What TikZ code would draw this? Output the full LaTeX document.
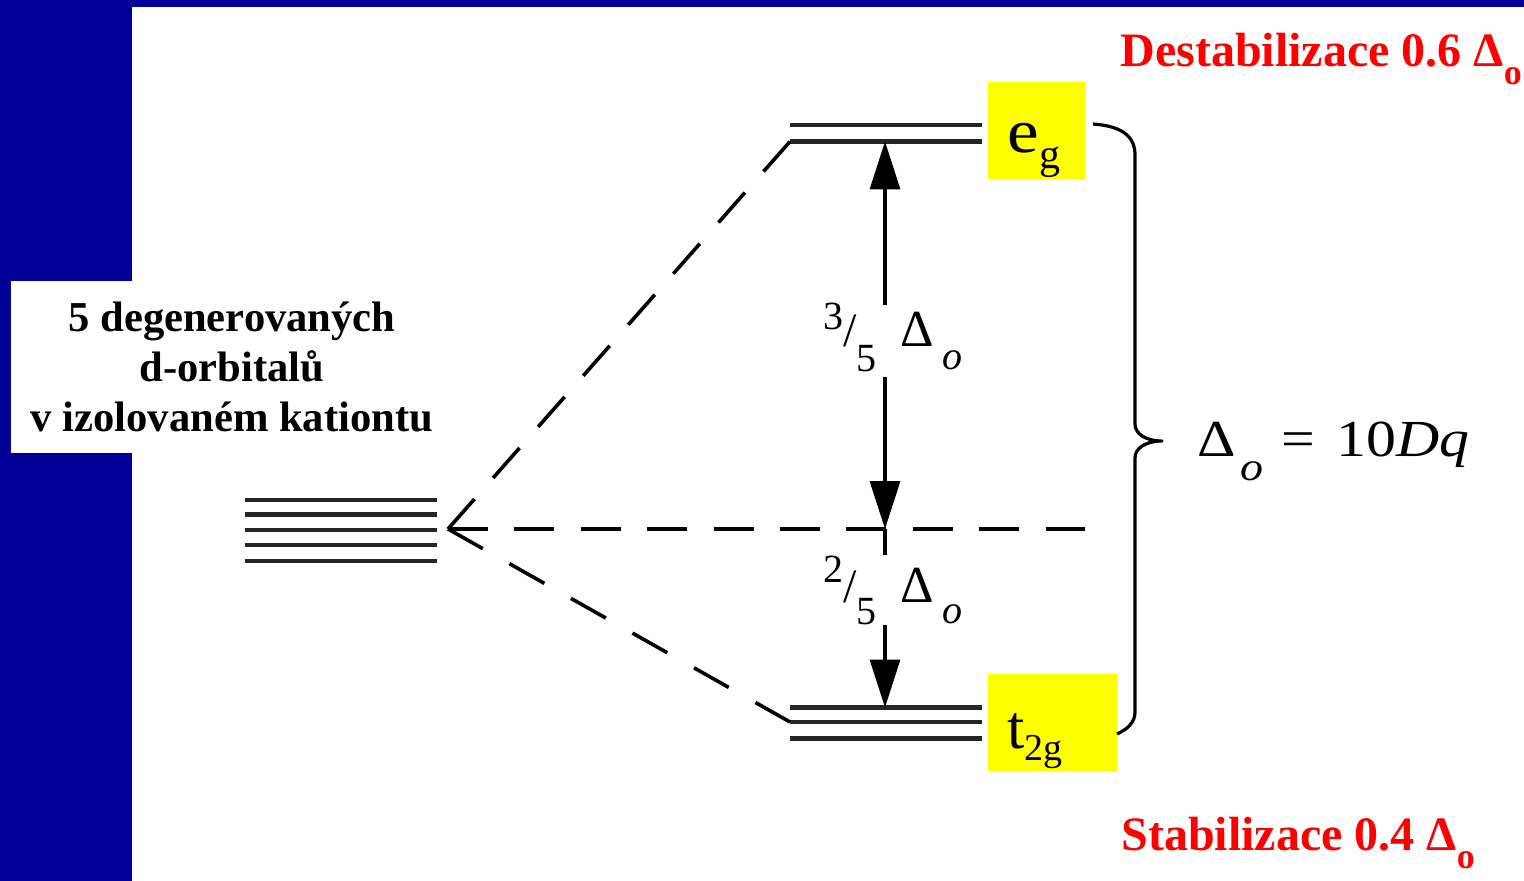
\documentclass[tikz,border=0pt]{standalone}
\usepackage{fontspec}
\setmainfont{Liberation Serif}
\usetikzlibrary{arrows.meta}
\definecolor{navy}{RGB}{0,0,153}
\definecolor{yel}{RGB}{255,255,0}
\definecolor{redtxt}{RGB}{255,0,0}
\begin{document}
\begin{tikzpicture}[x=0.5pt,y=-0.5pt,
  level/.style={line width=2.2pt,black!85},
  dashline/.style={line width=1.8pt},
  gaparrow/.style={line width=1.7pt,-{Triangle[width=15pt,length=24pt]}},
  plain/.style={inner sep=0pt,anchor=base west},
  boxtxt/.style={inner sep=0pt,anchor=base,font=\fontsize{21.3}{25}\selectfont\bfseries},
  redlbl/.style={inner sep=0pt,anchor=base west,text=redtxt,font=\fontsize{24}{24}\selectfont\bfseries},
  ybox/.style={fill=yel,draw=none}]
\useasboundingbox (0,0) rectangle (1524,881);
% background
\fill[navy] (0,0) rectangle (132,881);
\fill[navy] (0,0) rectangle (1524,7);
\fill[white] (11,281) rectangle (132,453);
% left text
\node[boxtxt] (t1) at (232,332) {5 degenerovaných};
\node[boxtxt] (t2) at (232,382) {d-orbitalů};
\node[boxtxt] (t3) at (232,432) {v izolovaném kationtu};
% degenerate levels
\foreach \yy in {500,514.5,530,545,561}
  \draw[level] (245,\yy) -- (437,\yy);
% eg and t2g levels
\draw[level] (790,125) -- (982,125);
\draw[level] (790,141.5) -- (982,141.5);
\draw[level] (790,707.5) -- (982,707.5);
\draw[level] (790,722) -- (982,722);
\draw[level] (790,738.5) -- (982,738.5);
% coordinates
\coordinate (apex) at (448,529);
\coordinate (egL) at (790,141.5);
\coordinate (tgL) at (790,722);
\coordinate (midR) at (1085,529);
\coordinate (egA) at (885,141.5);
\coordinate (a1) at (885,305);
\coordinate (a2) at (885,377);
\coordinate (mid) at (885,529);
\coordinate (a3) at (885,555);
\coordinate (a4) at (885,625);
\coordinate (tgA) at (885,707.5);
% dashed lines
\draw[dashline,dash pattern=on 20pt off 14.06pt] (apex) -- (egL);
\draw[dashline,dash pattern=on 20pt off 13.2pt] (apex) -- (midR);
\draw[dashline,dash pattern=on 20pt off 15.3pt] (apex) -- (tgL);
% arrows
\draw[gaparrow] (a1) -- (egA);
\draw[gaparrow] (a2) -- (mid);
\draw[line width=1.7pt] (mid) -- (a3);
\draw[gaparrow] (a4) -- (tgA);
% fraction labels
\node[plain] (f1) at (823,347) {\fontsize{20}{20}\selectfont\raisebox{8.5pt}{3}{\fontsize{24}{24}\selectfont/}\raisebox{-12.5pt}{5}\hspace{12pt}{\fontsize{26}{26}\selectfont Δ}\hspace{4pt}\raisebox{-11.5pt}{\itshape o}};
\node[plain] (f2) at (823,602) {\fontsize{20}{20}\selectfont\raisebox{10pt}{2}{\fontsize{24}{24}\selectfont/}\raisebox{-11pt}{5}\hspace{12pt}{\fontsize{26}{26}\selectfont Δ}\hspace{4pt}\raisebox{-10.5pt}{\itshape o}};
% yellow boxes
\fill[ybox] (988,82) rectangle (1085,179);
\fill[ybox] (988,674) rectangle (1117,771);
\node[plain] (eg) at (1007,153) {\scalebox{1.15}[1]{\fontsize{31}{31}\selectfont e}\raisebox{-8pt}{\fontsize{21}{21}\selectfont g}};
\node[plain] (tg) at (1007,748) {\fontsize{31}{31}\selectfont t\raisebox{-6pt}{\fontsize{19}{19}\selectfont 2g}};
% brace
\draw[line width=1.6pt,line join=round] (1093,124) .. controls (1120,126) and (1135,135) .. (1135,155)
  -- (1135,424) .. controls (1135,434) and (1146,441) .. (1162,441)
  .. controls (1146,441) and (1135,448) .. (1135,458)
  -- (1135,712) .. controls (1135,722) and (1128,729) .. (1117,734);
\coordinate (tip) at (1162,441);
\node[plain] (dq) at (1197,457) {\scalebox{1.15}[1]{\fontsize{26}{26}\selectfont Δ\hspace{2pt}\raisebox{-12pt}{\fontsize{20}{20}\selectfont\itshape o}\hspace{8pt}=\hspace{9pt}10\textit{Dq}}};
% red labels
\node[redlbl] (dest) at (1120,67) {Destabilizace 0.6 Δ\raisebox{-9pt}{\fontsize{18}{18}\selectfont o}};
\node[redlbl] (stab) at (1121,850) {Stabilizace 0.4 Δ\raisebox{-9pt}{\fontsize{18}{18}\selectfont o}};
\end{tikzpicture}
\end{document}
